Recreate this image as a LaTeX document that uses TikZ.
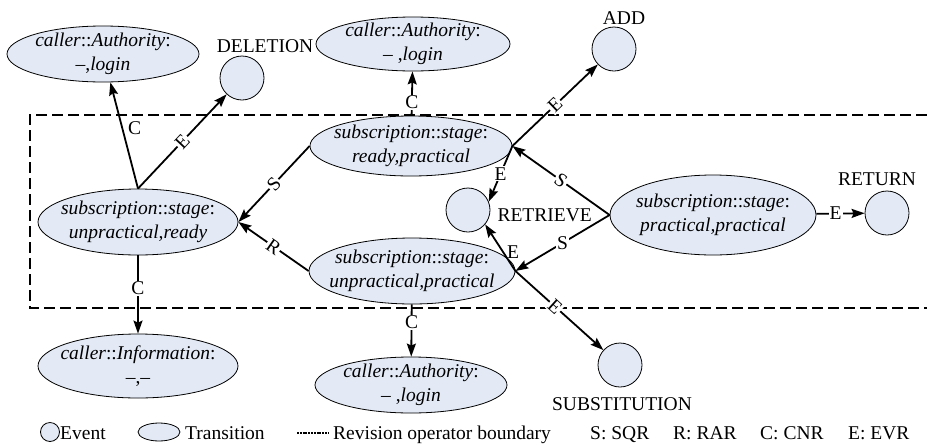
\documentclass[tikz,border=0pt]{standalone}
\usepackage{fontspec}
\setmainfont{Liberation Serif}
\usepackage{xcolor}
\usetikzlibrary{arrows.meta,shapes.geometric,positioning}
\definecolor{nodefill}{RGB}{227,234,246}

\begin{document}
\begin{tikzpicture}[x=1pt,y=-1pt,
    font=\fontsize{19.5}{23.5}\selectfont,
    trans/.style={ellipse,draw,fill=nodefill,line width=0.8pt,inner xsep=-25pt,inner ysep=-4pt,align=center},
    event/.style={circle,draw,fill=nodefill,line width=0.8pt,minimum size=44pt,inner sep=0pt},
    arr/.style={line width=1.8pt,-{Stealth[length=13pt,width=9pt,inset=2pt]}},
    lbl/.style={fill=white,inner sep=1pt},
    bound/.style={line width=2.5pt,dash pattern=on 11pt off 5pt}]
    \useasboundingbox (0,0) rectangle (927,445);

    % revision operator boundary
    \draw[bound] (927,115) -- (30,115) -- (30,308) -- (927,308);

    % transitions
    \node[trans,minimum width=192pt,minimum height=56pt] (auth1) at (103,54) {\textit{caller}::\textit{Authority}:\\--,\textit{login}};
    \node[trans,minimum width=194pt,minimum height=54pt] (auth2) at (413,44) {\textit{caller}::\textit{Authority}:\\-- ,\textit{login}};
    \node[trans,minimum width=202pt,minimum height=60pt] (rp) at (411,146) {\textit{subscription}::\textit{stage}:\\\textit{ready,practical}};
    \node[trans,minimum width=200pt,minimum height=66pt] (urdy) at (138,222) {\textit{subscription}::\textit{stage}:\\\textit{unpractical,ready}};
    \node[trans,minimum width=206pt,minimum height=66pt] (uprac) at (412,271) {\textit{subscription}::\textit{stage}:\\\textit{unpractical,practical}};
    \node[trans,minimum width=206pt,minimum height=80pt] (pp) at (713,215) {\textit{subscription}::\textit{stage}:\\\textit{practical,practical}};
    \node[trans,minimum width=200pt,minimum height=64pt] (info) at (138,366) {\textit{caller}::\textit{Information}:\\--,--};
    \node[trans,minimum width=192pt,minimum height=56pt] (auth3) at (411,385) {\textit{caller}::\textit{Authority}:\\-- ,\textit{login}};

    % events
    \node[event] (del) at (242,78) {};
    \node[event] (add) at (614,49) {};
    \node[event] (retr) at (468,210) {};
    \node[event] (ret) at (887,213) {};
    \node[event] (subst) at (620,365) {};
    \node[anchor=base] (delT) at (265,52) {DELETION};
    \node[anchor=base] (addT) at (624,24) {ADD};
    \node[anchor=base west] (retrT) at (494,221) {RETRIEVE};
    \node[anchor=base] (retT) at (877,185) {RETURN};
    \node[anchor=base] (substT) at (622,410) {SUBSTITUTION};

    % revisions
    \draw[arr] (urdy.north) -- node[inner sep=1pt,pos=0.57,right=4pt] (c1) {C} (auth1);
    \draw[arr] (urdy.north) -- node[lbl,sloped] (e1) {E} (del);
    \draw[arr] (rp.west) -- node[lbl,sloped] (s1) {S} (urdy.east);
    \draw[arr] (rp) -- node[lbl,pos=0.3] (c2) {C} (auth2);
    \draw[arr] (rp.east) -- node[lbl,sloped] (e2) {E} (add);
    \draw[arr] (rp.east) -- node[lbl] (e3) {E} (retr.22);
    \draw[arr] (pp.west) -- node[lbl,sloped] (s2) {S} (rp.east);
    \draw[arr] (pp.west) -- node[lbl] (s3) {S} (uprac.east);
    \draw[arr] (uprac.east) -- node[inner sep=1pt,pos=0.4,right=2pt] (e4) {E} (retr.-40);
    \draw[arr] (uprac.east) -- node[lbl,sloped,pos=0.45] (e5) {E} (subst);
    \draw[arr] (uprac.west) -- node[lbl,sloped] (r1) {R} (urdy.east);
    \draw[arr] (urdy) -- node[lbl,pos=0.42] (c3) {C} (info);
    \draw[arr] (uprac) -- node[lbl,pos=0.34] (c4) {C} (auth3);
    \draw[arr] (pp) -- node[lbl,pos=0.4] (e6) {E} (ret);

    % legend
    \node[event,minimum size=19pt] (lgEv) at (50,432) {};
    \node[anchor=base west,inner sep=0pt] (lgEvT) at (60,439) {Event};
    \node[trans,minimum width=42pt,minimum height=18pt] (lgTr) at (159,432) {};
    \node[anchor=base west,inner sep=0pt] (lgTrT) at (185,439) {Transition};
    \coordinate (lgA) at (297,433);
    \coordinate (lgB) at (329,433);
    \draw[line width=1.6pt,dash pattern=on 2pt off 0.8pt] (lgA) -- (lgB);
    \node[anchor=base west,inner sep=0pt] (lgBdT) at (333,439) {Revision operator boundary};
    \node[anchor=base west,inner sep=0pt] (lgS) at (590,439) {S: SQR};
    \node[anchor=base west,inner sep=0pt] (lgR) at (673,439) {R: RAR};
    \node[anchor=base west,inner sep=0pt] (lgC) at (760,439) {C: CNR};
    \node[anchor=base west,inner sep=0pt] (lgE) at (848,439) {E: EVR};
\end{tikzpicture}
\end{document}
